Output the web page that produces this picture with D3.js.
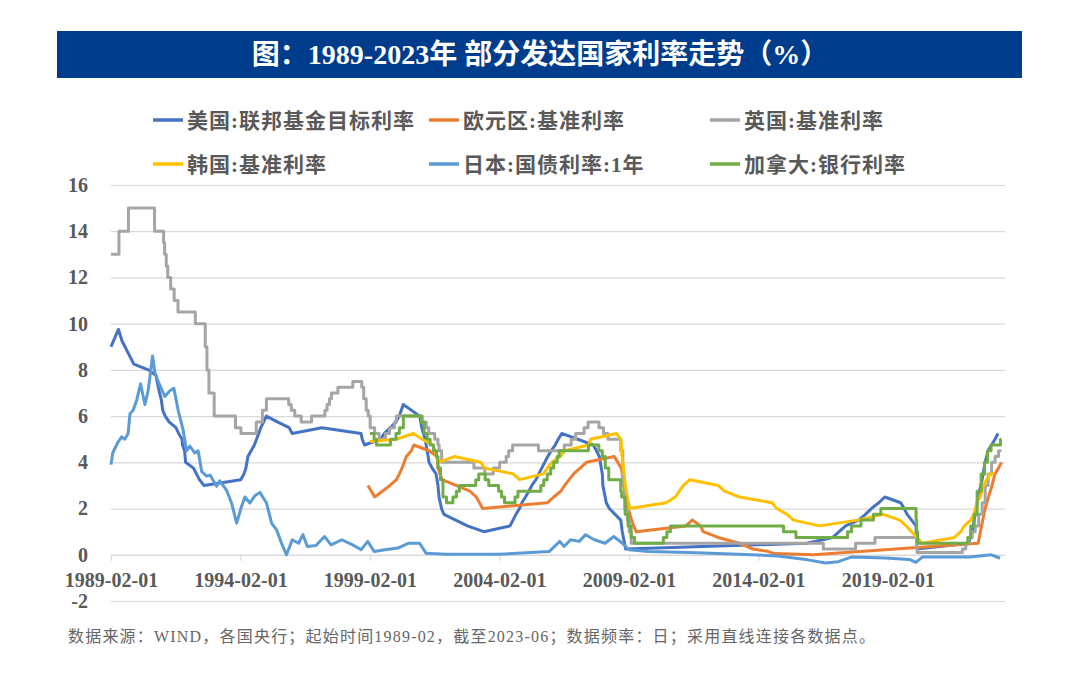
<!DOCTYPE html>
<html>
<head>
<meta charset="utf-8">
<script src="https://cdn.jsdelivr.net/npm/d3@7"></script>
<style>
  html, body { margin: 0; padding: 0; background: #fff; }
  svg { display: block; }
</style>
</head>
<body>
<div id="chart"></div>
<script>
// ---- text ----
const titleText = "图：1989-2023年 部分发达国家利率走势（%）";
const sourceText = "数据来源：WIND，各国央行；起始时间1989-02，截至2023-06；数据频率：日；采用直线连接各数据点。";
const seriesNames = ["美国:联邦基金目标利率", "欧元区:基准利率", "英国:基准利率",
                     "韩国:基准利率", "日本:国债利率:1年", "加拿大:银行利率"];

// ---- axes ----
const yTicks = [-2, 0, 2, 4, 6, 8, 10, 12, 14, 16];
const xTickLabels = ["1989-02-01", "1994-02-01", "1999-02-01", "2004-02-01",
                     "2009-02-01", "2014-02-01", "2019-02-01"];

// ---- series (date, %) ----
const usRate = [
  ["1989-02-01", 9.0], ["1989-05-17", 9.75], ["1989-07-07", 9.25], ["1989-12-20", 8.25],
  ["1990-07-13", 8.0], ["1990-10-29", 7.75], ["1990-11-13", 7.5], ["1990-12-18", 7.0],
  ["1991-01-09", 6.75], ["1991-02-01", 6.25], ["1991-03-08", 6.0], ["1991-04-30", 5.75],
  ["1991-08-06", 5.5], ["1991-09-13", 5.25], ["1991-10-31", 5.0], ["1991-11-06", 4.75],
  ["1991-12-06", 4.5], ["1991-12-20", 4.0], ["1992-04-09", 3.75], ["1992-07-02", 3.25],
  ["1992-09-04", 3.0], ["1994-02-04", 3.25], ["1994-03-22", 3.5], ["1994-04-18", 3.75],
  ["1994-05-17", 4.25], ["1994-08-16", 4.75], ["1994-11-15", 5.5], ["1995-02-01", 6.0],
  ["1995-07-06", 5.75], ["1995-12-19", 5.5], ["1996-01-31", 5.25], ["1997-03-25", 5.5],
  ["1998-09-29", 5.25], ["1998-10-15", 5.0], ["1998-11-17", 4.75], ["1999-06-30", 5.0],
  ["1999-08-24", 5.25], ["1999-11-16", 5.5], ["2000-02-02", 5.75], ["2000-03-21", 6.0],
  ["2000-05-16", 6.5], ["2001-01-03", 6.0], ["2001-01-31", 5.5], ["2001-03-20", 5.0],
  ["2001-04-18", 4.5], ["2001-05-15", 4.0], ["2001-06-27", 3.75], ["2001-08-21", 3.5],
  ["2001-09-17", 3.0], ["2001-10-02", 2.5], ["2001-11-06", 2.0], ["2001-12-11", 1.75],
  ["2002-11-06", 1.25], ["2003-06-25", 1.0], ["2004-06-30", 1.25], ["2004-08-10", 1.5],
  ["2004-09-21", 1.75], ["2004-11-10", 2.0], ["2004-12-14", 2.25], ["2005-02-02", 2.5],
  ["2005-03-22", 2.75], ["2005-05-03", 3.0], ["2005-06-30", 3.25], ["2005-08-09", 3.5],
  ["2005-09-20", 3.75], ["2005-11-01", 4.0], ["2005-12-13", 4.25], ["2006-01-31", 4.5],
  ["2006-03-28", 4.75], ["2006-05-10", 5.0], ["2006-06-29", 5.25], ["2007-09-18", 4.75],
  ["2007-10-31", 4.5], ["2007-12-11", 4.25], ["2008-01-22", 3.5], ["2008-01-30", 3.0],
  ["2008-03-18", 2.25], ["2008-04-30", 2.0], ["2008-10-08", 1.5], ["2008-10-29", 1.0],
  ["2008-12-16", 0.25], ["2015-12-16", 0.5], ["2016-12-14", 0.75], ["2017-03-15", 1.0],
  ["2017-06-14", 1.25], ["2017-12-13", 1.5], ["2018-03-21", 1.75], ["2018-06-13", 2.0],
  ["2018-09-26", 2.25], ["2018-12-19", 2.5], ["2019-07-31", 2.25], ["2019-09-18", 2.0],
  ["2019-10-30", 1.75], ["2020-03-03", 1.25], ["2020-03-15", 0.25], ["2022-03-16", 0.5],
  ["2022-05-04", 1.0], ["2022-06-15", 1.75], ["2022-07-27", 2.5], ["2022-09-21", 3.25],
  ["2022-11-02", 4.0], ["2022-12-14", 4.5], ["2023-02-01", 4.75], ["2023-03-22", 5.0],
  ["2023-05-03", 5.25]
];

const euroRate = [
  ["1999-01-04", 3.0], ["1999-04-09", 2.5], ["1999-11-10", 3.0], ["2000-02-09", 3.25],
  ["2000-03-22", 3.5], ["2000-04-28", 3.75], ["2000-06-28", 4.25], ["2000-09-06", 4.5],
  ["2000-10-11", 4.75], ["2001-05-15", 4.5], ["2001-09-05", 4.25], ["2001-09-18", 3.75],
  ["2001-11-14", 3.25], ["2002-12-11", 2.75], ["2003-03-12", 2.5], ["2003-06-09", 2.0],
  ["2005-12-06", 2.25], ["2006-03-08", 2.5], ["2006-06-15", 2.75], ["2006-08-09", 3.0],
  ["2006-10-11", 3.25], ["2006-12-13", 3.5], ["2007-03-14", 3.75], ["2007-06-13", 4.0],
  ["2008-07-09", 4.25], ["2008-10-15", 3.75], ["2008-11-12", 3.25], ["2008-12-10", 2.5],
  ["2009-01-21", 2.0], ["2009-03-11", 1.5], ["2009-04-08", 1.25], ["2009-05-13", 1.0],
  ["2011-04-13", 1.25], ["2011-07-13", 1.5], ["2011-11-09", 1.25], ["2011-12-14", 1.0],
  ["2012-07-11", 0.75], ["2013-05-08", 0.5], ["2013-11-13", 0.25], ["2014-06-11", 0.15],
  ["2014-09-10", 0.05], ["2016-03-16", 0.0], ["2022-07-27", 0.5], ["2022-09-14", 1.25],
  ["2022-11-02", 2.0], ["2022-12-21", 2.5], ["2023-02-08", 3.0], ["2023-03-22", 3.5],
  ["2023-05-10", 3.75], ["2023-06-21", 4.0]
];

const ukRate = [
  ["1989-02-01", 13], ["1989-05-24", 14], ["1989-10-05", 15], ["1990-10-08", 14],
  ["1991-02-13", 13.5], ["1991-02-27", 13], ["1991-03-22", 12.5], ["1991-04-12", 12],
  ["1991-05-24", 11.5], ["1991-07-12", 11], ["1991-09-04", 10.5], ["1992-05-05", 10],
  ["1992-09-22", 9], ["1992-10-16", 8], ["1992-11-13", 7], ["1993-01-26", 6],
  ["1993-11-23", 5.5], ["1994-02-08", 5.25], ["1994-09-12", 5.75], ["1994-12-07", 6.25],
  ["1995-02-02", 6.75], ["1995-12-13", 6.5], ["1996-01-18", 6.25], ["1996-03-08", 6],
  ["1996-06-06", 5.75], ["1996-10-30", 6], ["1997-05-06", 6.25], ["1997-06-06", 6.5],
  ["1997-07-10", 6.75], ["1997-08-07", 7], ["1997-11-06", 7.25], ["1998-06-04", 7.5],
  ["1998-10-08", 7.25], ["1998-11-05", 6.75], ["1998-12-10", 6.25], ["1999-01-07", 6],
  ["1999-02-04", 5.5], ["1999-04-08", 5.25], ["1999-06-10", 5], ["1999-09-08", 5.25],
  ["1999-11-04", 5.5], ["2000-01-13", 5.75], ["2000-02-10", 6], ["2001-02-08", 5.75],
  ["2001-04-05", 5.5], ["2001-05-10", 5.25], ["2001-08-02", 5], ["2001-09-18", 4.75],
  ["2001-10-04", 4.5], ["2001-11-08", 4], ["2003-02-06", 3.75], ["2003-07-10", 3.5],
  ["2003-11-06", 3.75], ["2004-02-05", 4], ["2004-05-06", 4.25], ["2004-06-10", 4.5],
  ["2004-08-05", 4.75], ["2005-08-04", 4.5], ["2006-08-03", 4.75], ["2006-11-09", 5],
  ["2007-01-11", 5.25], ["2007-05-10", 5.5], ["2007-07-05", 5.75], ["2007-12-06", 5.5],
  ["2008-02-07", 5.25], ["2008-04-10", 5], ["2008-10-08", 4.5], ["2008-11-06", 3],
  ["2008-12-04", 2], ["2009-01-08", 1.5], ["2009-02-05", 1], ["2009-03-05", 0.5],
  ["2016-08-04", 0.25], ["2017-11-02", 0.5], ["2018-08-02", 0.75], ["2020-03-11", 0.25],
  ["2020-03-19", 0.1], ["2021-12-16", 0.25], ["2022-02-03", 0.5], ["2022-03-17", 0.75],
  ["2022-05-05", 1], ["2022-06-16", 1.25], ["2022-08-04", 1.75], ["2022-09-22", 2.25],
  ["2022-11-03", 3], ["2022-12-15", 3.5], ["2023-02-02", 4], ["2023-03-23", 4.25],
  ["2023-05-11", 4.5], ["2023-06-20", 4.5]
];

const koreaRate = [
  ["1999-02-01", 4.9], ["2000-02-10", 5.0], ["2000-10-05", 5.25], ["2001-02-08", 5.0],
  ["2001-07-05", 4.75], ["2001-08-09", 4.5], ["2001-09-19", 4.0], ["2002-05-07", 4.25],
  ["2003-05-13", 4.0], ["2003-07-10", 3.75], ["2004-08-12", 3.5], ["2004-11-11", 3.25],
  ["2005-10-11", 3.5], ["2005-12-08", 3.75], ["2006-02-09", 4.0], ["2006-06-08", 4.25],
  ["2006-08-10", 4.5], ["2007-07-12", 4.75], ["2007-08-09", 5.0], ["2008-08-07", 5.25],
  ["2008-10-09", 5.0], ["2008-10-27", 4.25], ["2008-11-07", 4.0], ["2008-12-11", 3.0],
  ["2009-01-09", 2.5], ["2009-02-12", 2.0], ["2010-07-09", 2.25], ["2010-11-16", 2.5],
  ["2011-01-13", 2.75], ["2011-03-10", 3.0], ["2011-06-10", 3.25], ["2012-07-12", 3.0],
  ["2012-10-11", 2.75], ["2013-05-09", 2.5], ["2014-08-14", 2.25], ["2014-10-15", 2.0],
  ["2015-03-12", 1.75], ["2015-06-11", 1.5], ["2016-06-09", 1.25], ["2017-11-30", 1.5],
  ["2018-11-30", 1.75], ["2019-07-18", 1.5], ["2019-10-16", 1.25], ["2020-03-17", 0.75],
  ["2020-05-28", 0.5], ["2021-08-26", 0.75], ["2021-11-25", 1.0], ["2022-01-14", 1.25],
  ["2022-04-14", 1.5], ["2022-05-26", 1.75], ["2022-07-13", 2.25], ["2022-08-25", 2.5],
  ["2022-10-12", 3.0], ["2022-11-24", 3.25], ["2023-01-13", 3.5], ["2023-03-10", 3.5]
];

const japanRate = [
  ["1989-02-01", 3.9], ["1989-02-25", 4.4], ["1989-03-28", 4.6], ["1989-05-15", 4.9],
  ["1989-07-01", 5.1], ["1989-08-15", 5.0], ["1989-10-01", 5.25], ["1989-10-26", 6.1],
  ["1989-12-10", 6.25], ["1990-01-30", 6.7], ["1990-03-25", 7.4], ["1990-05-25", 6.5],
  ["1990-07-10", 7.1], ["1990-09-10", 8.6], ["1990-10-12", 7.9], ["1990-11-28", 7.5],
  ["1991-03-01", 6.85], ["1991-05-12", 7.1], ["1991-07-08", 7.2], ["1991-09-06", 6.25],
  ["1991-11-15", 5.4], ["1992-01-03", 4.5], ["1992-02-17", 4.7], ["1992-04-30", 4.4],
  ["1992-06-14", 4.5], ["1992-08-03", 3.6], ["1992-10-12", 3.4], ["1992-11-28", 3.45],
  ["1993-03-01", 2.96], ["1993-04-15", 3.2], ["1993-07-19", 2.8], ["1993-09-28", 2.24],
  ["1993-12-09", 1.37], ["1994-02-17", 2.1], ["1994-04-04", 2.5], ["1994-06-14", 2.24],
  ["1994-08-23", 2.55], ["1994-11-01", 2.7], ["1995-02-03", 2.24], ["1995-04-16", 1.37],
  ["1995-06-25", 1.08], ["1995-09-03", 0.5], ["1995-11-12", 0.0],
  ["1996-02", 0.65], ["1996-05", 0.5], ["1996-07", 0.87], ["1996-09", 0.36], ["1997-01", 0.4],
  ["1997-05", 0.79], ["1997-08", 0.43], ["1998-01", 0.65], ["1998-06", 0.43], ["1998-10", 0.22],
  ["1999-01", 0.58], ["1999-04", 0.14], ["1999-09", 0.22], ["2000-03", 0.29], ["2000-08", 0.5],
  ["2001-01", 0.5], ["2001-04", 0.07], ["2002-01", 0.02], ["2004-02", 0.02], ["2006-01", 0.14],
  ["2006-06", 0.58], ["2006-08", 0.36], ["2006-11", 0.65], ["2007-03", 0.58], ["2007-06", 0.87],
  ["2007-10", 0.65], ["2008-03", 0.5], ["2008-07", 0.79], ["2008-11", 0.5], ["2009-02", 0.22],
  ["2009-11", 0.14], ["2011-06", 0.1], ["2013-05", 0.02], ["2014-11", -0.05], ["2016-01", -0.22],
  ["2016-09", -0.36], ["2017-03", -0.3], ["2017-09", -0.1], ["2019-01", -0.14], ["2019-12", -0.2],
  ["2020-03", -0.33], ["2020-06", -0.1], ["2021-07", -0.1], ["2022-04", -0.1], ["2023-02", 0.0],
  ["2023-06", -0.15]
];

const canadaRate = [
  ["1999-02-01", 5.25], ["1999-03-31", 5.0], ["1999-05-04", 4.75], ["1999-11-17", 5.0],
  ["2000-02-03", 5.25], ["2000-03-22", 5.5], ["2000-05-17", 6.0], ["2001-01-23", 5.75],
  ["2001-03-06", 5.25], ["2001-04-17", 5.0], ["2001-05-29", 4.75], ["2001-07-17", 4.5],
  ["2001-08-28", 4.25], ["2001-09-17", 3.75], ["2001-10-23", 3.25], ["2001-11-27", 2.5],
  ["2002-01-15", 2.25], ["2002-04-16", 2.5], ["2002-06-04", 2.75], ["2002-07-16", 3.0],
  ["2003-03-04", 3.25], ["2003-04-15", 3.5], ["2003-07-15", 3.25], ["2003-09-03", 3.0],
  ["2004-01-20", 2.75], ["2004-03-02", 2.5], ["2004-04-13", 2.25], ["2004-09-08", 2.5],
  ["2004-10-19", 2.75], ["2005-09-07", 3.0], ["2005-10-18", 3.25], ["2005-12-06", 3.5],
  ["2006-01-24", 3.75], ["2006-03-07", 4.0], ["2006-04-25", 4.25], ["2006-05-24", 4.5],
  ["2007-07-10", 4.75], ["2007-12-04", 4.5], ["2008-01-22", 4.25], ["2008-03-04", 3.75],
  ["2008-04-22", 3.25], ["2008-10-08", 2.75], ["2008-10-21", 2.5], ["2008-12-09", 1.75],
  ["2009-01-20", 1.25], ["2009-03-03", 0.75], ["2009-04-21", 0.5], ["2010-06-01", 0.75],
  ["2010-07-20", 1.0], ["2010-09-08", 1.25], ["2015-01-21", 1.0], ["2015-07-15", 0.75],
  ["2017-07-12", 1.0], ["2017-09-06", 1.25], ["2018-01-17", 1.5], ["2018-07-11", 1.75],
  ["2018-10-24", 2.0], ["2020-03-04", 1.5], ["2020-03-13", 1.0], ["2020-03-27", 0.5],
  ["2022-03-02", 0.75], ["2022-04-13", 1.25], ["2022-06-01", 1.75], ["2022-07-13", 2.75],
  ["2022-09-07", 3.5], ["2022-10-26", 4.0], ["2022-12-07", 4.5], ["2023-01-25", 4.75],
  ["2023-06-07", 5.0], ["2023-06-20", 5.0]
];

const seriesData = [usRate, euroRate, ukRate, koreaRate, japanRate, canadaRate];

// ---- styles ----
const colors = ["#4472C4", "#ED7D31", "#A5A5A5", "#FFC000", "#5B9BD5", "#70AD47"];
const stepped = [false, false, true, false, false, true];
const numFont = "'Liberation Serif', 'Noto Sans CJK SC', serif";
const cjkFont = "'Liberation Serif', 'Noto Sans CJK SC', sans-serif";
const textGrey = "#595959";
const gridGrey = "#d9d9d9";

const width = 1080;
const height = 675;

const parseDay = d3.timeParse("%Y-%m-%d");
const parseMonth = d3.timeParse("%Y-%m");
const parseDate = s => s.length === 7 ? parseMonth(s) : parseDay(s);

const svg = d3.select("#chart")
    .append("svg")
    .attr("width", width)
    .attr("height", height)
    .attr("viewBox", `0 0 ${width} ${height}`);

// Title band
svg.append("rect")
    .attr("x", 57).attr("y", 31)
    .attr("width", 965).attr("height", 47)
    .attr("fill", "#003C8C");

svg.append("text")
    .attr("x", 540).attr("y", 64)
    .attr("text-anchor", "middle")
    .style("font-family", cjkFont)
    .style("font-size", "28px")
    .style("font-weight", "bold")
    .style("fill", "#fff")
    .text(titleText);

// Legend
const legend = svg.append("g").attr("class", "legend");
const legendCols = [187, 463, 744];
const legendRows = [120, 164];

legend.selectAll("g")
    .data(seriesNames)
    .enter()
    .append("g")
    .attr("transform", (d, i) => `translate(${legendCols[i % 3]},${legendRows[Math.floor(i / 3)]})`)
    .each(function (d, i) {
        const g = d3.select(this);
        g.append("line")
            .attr("x1", -34).attr("x2", -4)
            .attr("y1", 0).attr("y2", 0)
            .attr("stroke", colors[i])
            .attr("stroke-width", 3.5);
        g.append("text")
            .attr("x", 0).attr("y", 0)
            .attr("dy", "0.36em")
            .style("font-family", cjkFont)
            .style("font-size", "21px")
            .style("font-weight", "bold")
            .style("letter-spacing", "1px")
            .style("fill", textGrey)
            .text(d);
    });

// Scales
const x = d3.scaleTime()
    .domain([parseDay("1989-02-01"), parseDay("2023-08-10")])
    .range([111, 1005]);

const y = d3.scaleLinear()
    .domain([-2, 16])
    .range([601, 185]);

// Y axis with gridlines
const yAxis = svg.append("g")
    .attr("transform", `translate(${x.range()[0]},0)`)
    .call(d3.axisLeft(y)
        .tickValues(yTicks)
        .tickSize(-(x.range()[1] - x.range()[0]))
        .tickPadding(23)
        .tickFormat(d => String(d)));   // plain hyphen for "-2"

yAxis.select(".domain").remove();
yAxis.selectAll(".tick line").attr("stroke", gridGrey).attr("stroke-width", 1.2);
yAxis.selectAll(".tick text")
    .style("font-family", numFont)
    .style("font-size", "20px")
    .style("font-weight", "bold")
    .style("fill", textGrey);

// X axis on the zero line
const xAxis = svg.append("g")
    .attr("transform", `translate(0,${y(0)})`)
    .call(d3.axisBottom(x)
        .tickValues(xTickLabels.map(parseDay))
        .tickSizeInner(6)
        .tickSizeOuter(0)
        .tickPadding(12)
        .tickFormat(d3.timeFormat("%Y-%m-%d")));

xAxis.select(".domain").attr("stroke", gridGrey).attr("stroke-width", 1.2);
xAxis.selectAll(".tick line").attr("stroke", gridGrey).attr("stroke-width", 1.2);
xAxis.selectAll(".tick text")
    .style("font-family", numFont)
    .style("font-size", "20px")
    .style("font-weight", "bold")
    .style("fill", textGrey);

// Lines
const lineGroup = svg.append("g").attr("class", "lines");

seriesData.forEach((series, i) => {
    const line = d3.line()
        .x(d => x(parseDate(d[0])))
        .y(d => y(d[1]))
        .curve(stepped[i] ? d3.curveStepAfter : d3.curveLinear);

    lineGroup.append("path")
        .datum(series)
        .attr("fill", "none")
        .attr("stroke", colors[i])
        .attr("stroke-width", 3)
        .attr("stroke-linejoin", "round")
        .attr("d", line);
});

// Source note
svg.append("text")
    .attr("x", 68).attr("y", 642)
    .style("font-family", cjkFont)
    .style("font-size", "16px")
    .style("letter-spacing", "1.2px")
    .style("fill", "#666")
    .text(sourceText);
</script>
</body>
</html>
